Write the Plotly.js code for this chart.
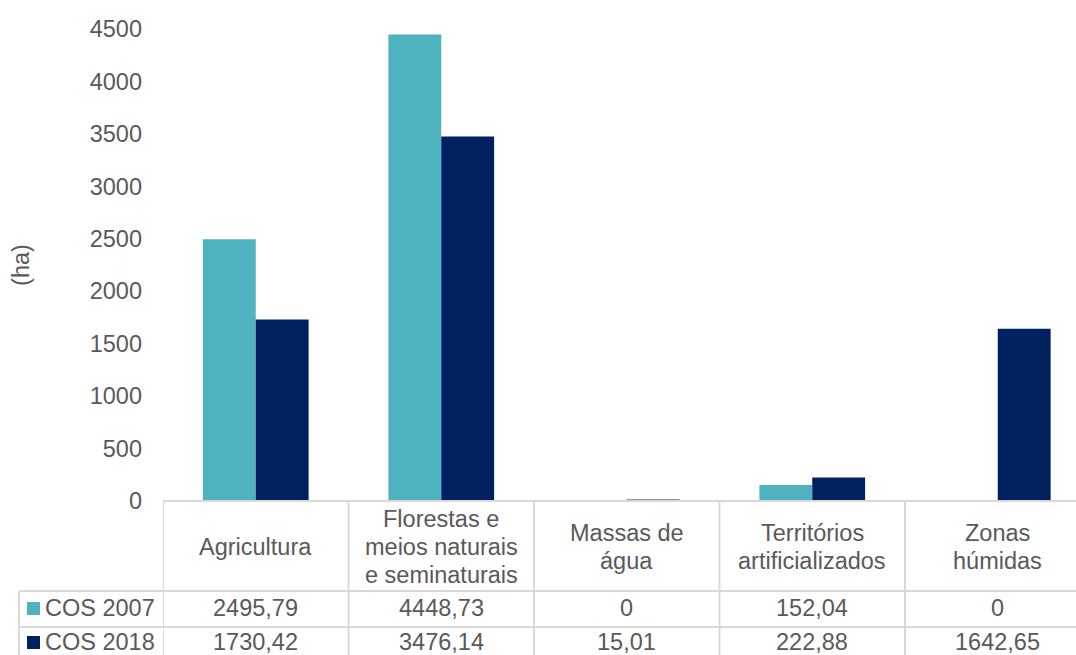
<!DOCTYPE html>
<html>
<head>
<meta charset="utf-8">
<script src="https://cdn.plot.ly/plotly-3.0.1.min.js"></script>
<style>html,body{margin:0;padding:0;background:#fff;}#chart{width:1076px;height:655px;}</style>
</head>
<body>
<div id="chart"></div>
<script>
// ---- data ----
const categories = ["Agricultura", "Florestas e<br>meios naturais<br>e seminaturais", "Massas de<br>água", "Territórios<br>artificializados", "Zonas<br>húmidas"];
const seriesNames = ["COS 2007", "COS 2018"];
const cos2007 = [2495.79, 4448.73, 0, 152.04, 0];
const cos2018 = [1730.42, 3476.14, 15.01, 222.88, 1642.65];
const yTicks = [0, 500, 1000, 1500, 2000, 2500, 3000, 3500, 4000, 4500];
const yTitle = "(ha)";

// ---- styles ----
const colors = ["#4EB3BF", "#002060"];
const textColor = "#595959";
const gridColor = "#D9D9D9";
const fontFamily = "Liberation Sans, Arial, sans-serif";
const fs = 23.5;

const xs = categories.map((_, i) => i);
const fmt = v => v === 0 ? "0" : v.toFixed(2).replace(".", ",");

const traces = [cos2007, cos2018].map((vals, k) => ({
  type: "bar", x: xs, y: vals, name: seriesNames[k],
  marker: {color: colors[k]}, hoverinfo: "skip"
}));

// geometry (pixels)
const W = 1076, H = 655, L = 163, T = 29, B = 154;
const plotW = W - L, plotH = H - T - B;
const xRange = [-0.5, -0.5 + plotW / 185.5];
const py = p => (H - B - p) / plotH;      // pixel y -> paper y
const px = p => (p - L) / plotW;          // pixel x -> paper x

const yHeaderBot = 591, yRow1Bot = 627, yBottom = 663;
const shapes = [];
const line = {color: gridColor, width: 2};
shapes.push({type: "line", xref: "paper", yref: "paper", x0: 0, x1: 1, y0: 0, y1: 0, line});
[yHeaderBot, yRow1Bot, yBottom].forEach(p => shapes.push({type: "line", xref: "paper", yref: "paper", x0: px(19), x1: 1, y0: py(p), y1: py(p), line}));
for (let i = 0; i <= categories.length; i++) {
  shapes.push({type: "line", xref: "x", yref: "paper", x0: i - 0.5, x1: i - 0.5, y0: 0, y1: py(yBottom), line});
}
shapes.push({type: "line", xref: "paper", yref: "paper", x0: px(19), x1: px(19), y0: py(yHeaderBot), y1: py(yBottom), line});

const font = {family: fontFamily, size: fs, color: textColor};
const annotations = [];
const headerCenter = 547, lineStep = 28;
categories.forEach((c, i) => {
  const parts = c.split("<br>");
  parts.forEach((t, j) => {
    const yc = headerCenter + (j - (parts.length - 1) / 2) * lineStep;
    annotations.push({xref: "x", yref: "paper", x: i, y: py(yc), text: t, showarrow: false,
      xanchor: "center", yanchor: "middle", font});
  });
});
const rowCenters = [608, 642];
[cos2007, cos2018].forEach((vals, k) => {
  vals.forEach((v, i) => annotations.push({xref: "x", yref: "paper", x: i, y: py(rowCenters[k]), text: fmt(v),
    showarrow: false, xanchor: "center", yanchor: "middle", font}));
  annotations.push({xref: "paper", yref: "paper", x: px(157), y: py(rowCenters[k]), text: seriesNames[k],
    showarrow: false, xanchor: "right", yanchor: "middle", font});
  shapes.push({type: "rect", xref: "paper", yref: "paper", x0: px(27), x1: px(40), y0: py(rowCenters[k] + 7), y1: py(rowCenters[k] - 6),
    fillcolor: colors[k], line: {width: 0}});
});

const layout = {
  width: W, height: H,
  margin: {l: L, r: 0, t: T, b: B, pad: 0},
  paper_bgcolor: "#fff", plot_bgcolor: "#fff",
  showlegend: false,
  barmode: "group", bargap: 0.43, bargroupgap: 0,
  font,
  xaxis: {range: xRange, showticklabels: false, ticks: "", showgrid: false, zeroline: false, showline: false, fixedrange: true},
  yaxis: {range: [0, 4500], tickvals: yTicks, ticktext: yTicks.map(String), showgrid: false, zeroline: false, showline: false,
    ticks: "", ticklabelstandoff: 20, tickfont: font,
    title: {text: yTitle, standoff: 53, font}, automargin: false, fixedrange: true},
  shapes, annotations
};

Plotly.newPlot("chart", traces, layout, {displayModeBar: false, staticPlot: true});
</script>
</body>
</html>
